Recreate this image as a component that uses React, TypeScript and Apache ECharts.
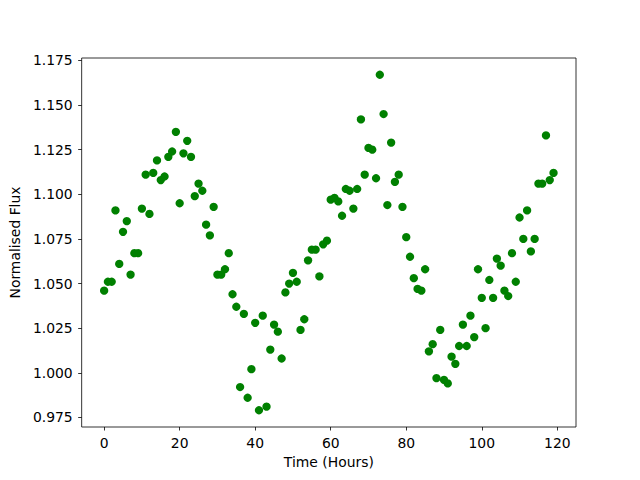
import React, { useEffect, useRef } from "react";
import * as echarts from "echarts";

const hours: number[] = Array.from({ length: 120 }, (_, i) => i);
const flux: number[] = [
  1.046, 1.051, 1.051, 1.091, 1.061, 1.079, 1.085, 1.055, 1.067, 1.067,
  1.092, 1.111, 1.089, 1.112, 1.119, 1.108, 1.110, 1.121, 1.124, 1.135,
  1.095, 1.123, 1.130, 1.121, 1.099, 1.106, 1.102, 1.083, 1.077, 1.093,
  1.055, 1.055, 1.058, 1.067, 1.044, 1.037, 0.992, 1.033, 0.986, 1.002,
  1.028, 0.979, 1.032, 0.981, 1.013, 1.027, 1.023, 1.008, 1.045, 1.050,
  1.056, 1.051, 1.024, 1.030, 1.063, 1.069, 1.069, 1.054, 1.072, 1.074,
  1.097, 1.098, 1.096, 1.088, 1.103, 1.102, 1.092, 1.103, 1.142, 1.111,
  1.126, 1.125, 1.109, 1.167, 1.145, 1.094, 1.129, 1.107, 1.111, 1.093,
  1.076, 1.065, 1.053, 1.047, 1.046, 1.058, 1.012, 1.016, 0.997, 1.024,
  0.996, 0.994, 1.009, 1.005, 1.015, 1.027, 1.015, 1.032, 1.020, 1.058,
  1.042, 1.025, 1.052, 1.042, 1.064, 1.060, 1.046, 1.043, 1.067, 1.051,
  1.087, 1.075, 1.091, 1.068, 1.075, 1.106, 1.106, 1.133, 1.108, 1.112,
];
const xTicks: number[] = [0, 20, 40, 60, 80, 100, 120];
const yTicks: number[] = [0.975, 1.0, 1.025, 1.05, 1.075, 1.1, 1.125, 1.15, 1.175];

export default function App() {
  const ref = useRef<HTMLDivElement>(null);
  useEffect(() => {
    if (!ref.current) return;
    const chart = echarts.init(ref.current, null, { renderer: "svg" });
    const xMinD = Math.min(...hours), xMaxD = Math.max(...hours);
    const yMinD = Math.min(...flux), yMaxD = Math.max(...flux);
    const xm = (xMaxD - xMinD) * 0.05, ym = (yMaxD - yMinD) * 0.05;
    const font = "DejaVu Sans";
    const tickCommon = {
      show: true,
      inside: false,
      length: 3.5,
      lineStyle: { color: "#000", width: 0.8 },
    };
    chart.setOption({
      animation: false,
      backgroundColor: "#fff",
      grid: {
        left: 80, right: 64, top: 58, bottom: 53,
        show: true, borderColor: "#000", borderWidth: 0.8,
        containLabel: false,
      },
      xAxis: {
        type: "value",
        min: xMinD - xm,
        max: xMaxD + xm,
        name: "Time (Hours)",
        nameLocation: "middle",
        nameGap: 28,
        nameTextStyle: { fontFamily: font, fontSize: 13.9, color: "#000" },
        axisLine: { show: false, onZero: false },
        splitLine: { show: false },
        axisTick: { ...tickCommon, customValues: xTicks },
        axisLabel: {
          customValues: xTicks,
          fontFamily: font, fontSize: 13.9, color: "#000", margin: 9,
        },
      },
      yAxis: {
        type: "value",
        min: yMinD - ym,
        max: yMaxD + ym,
        name: "Normalised Flux",
        nameLocation: "middle",
        nameGap: 56,
        nameTextStyle: { fontFamily: font, fontSize: 13.9, color: "#000" },
        axisLine: { show: false, onZero: false },
        splitLine: { show: false },
        axisTick: { ...tickCommon, customValues: yTicks },
        axisLabel: {
          customValues: yTicks,
          formatter: (v: number) => v.toFixed(3),
          fontFamily: font, fontSize: 13.9, color: "#000", margin: 9,
        },
      },
      series: [
        {
          type: "scatter",
          data: hours.map((h, i) => [h, flux[i]]),
          symbol: "circle",
          symbolSize: 8.3,
          itemStyle: { color: "#008000", opacity: 1 },
        },
      ],
    });
    return () => chart.dispose();
  }, []);
  return <div ref={ref} style={{ width: 640, height: 480, position: "absolute", left: 0, top: 0 }} />;
}
